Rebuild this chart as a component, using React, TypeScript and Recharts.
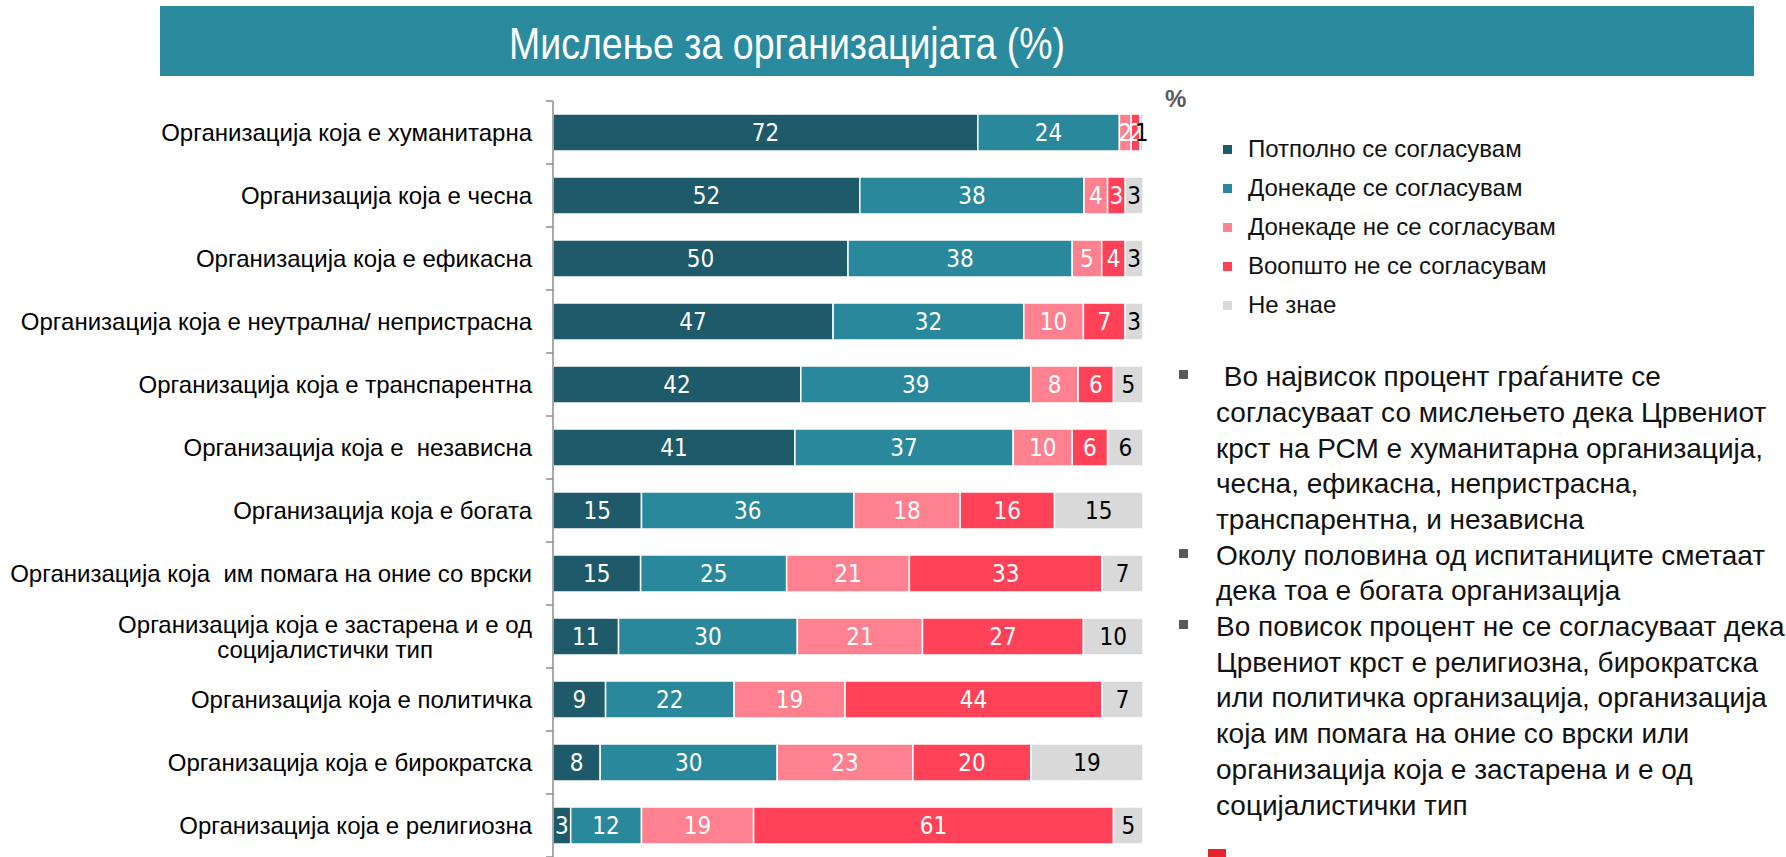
import React from 'react';
import { BarChart, Bar, XAxis, YAxis, LabelList } from 'recharts';

const categories = [
  'Организација која е хуманитарна',
  'Организација која е чесна',
  'Организација која е ефикасна',
  'Организација која е неутрална/ непристрасна',
  'Организација која е транспарентна',
  'Организација која е  независна',
  'Организација која е богата',
  'Организација која  им помага на оние со врски',
  'Организација која е застарена и е од\nсоцијалистички тип',
  'Организација која е политичка',
  'Организација која е бирократска',
  'Организација која е религиозна',
];

const fullyAgree = [72, 52, 50, 47, 42, 41, 15, 15, 11, 9, 8, 3];
const somewhatAgree = [24, 38, 38, 32, 39, 37, 36, 25, 30, 22, 30, 12];
const somewhatDisagree = [2, 4, 5, 10, 8, 10, 18, 21, 21, 19, 23, 19];
const stronglyDisagree = [1.5, 3, 4, 7, 6, 6, 16, 33, 27, 44, 20, 61];
const dontKnow = [0.5, 3, 3, 3, 5, 6, 15, 7, 10, 7, 19, 5];

const seriesNames = [
  'Потполно се согласувам',
  'Донекаде се согласувам',
  'Донекаде не се согласувам',
  'Воопшто не се согласувам',
  'Не знае',
];
const seriesKeys = ['s1', 's2', 's3', 's4', 's5'];
const seriesValues = [fullyAgree, somewhatAgree, somewhatDisagree, stronglyDisagree, dontKnow];
const seriesColors = ['#1E5A69', '#2A889C', '#FF808E', '#FF4258', '#D9D9D9'];
const labelColors = ['#FFFFFF', '#FFFFFF', '#FFFFFF', '#FFFFFF', '#000000'];

const titleText = 'Мислење за организацијата (%)';

const bulletLines = [
  ' Во највисок процент граѓаните се',
  'согласуваат со мислењето дека Црвениот',
  'крст на РСМ е хуманитарна организација,',
  'чесна, ефикасна, непристрасна,',
  'транспарентна, и независна',
  'Околу половина од испитаниците сметаат',
  'дека тоа е богата организација',
  'Во повисок процент не се согласуваат дека',
  'Црвениот крст е религиозна, бирократска',
  'или политичка организација, организација',
  'која им помага на оние со врски или',
  'организација која е застарена и е од',
  'социјалистички тип',
];
const bulletStarts = [0, 5, 7];

const data = categories.map((name, i) => {
  const row: Record<string, any> = { name };
  seriesKeys.forEach((k, j) => {
    row[k] = seriesValues[j][i];
  });
  return row;
});

const SANS = "'Liberation Sans', Arial, Helvetica, sans-serif";
const LABEL_FONT = "'DejaVu Sans Condensed', 'DejaVu Sans', Tahoma, sans-serif";

const CHART_W = 1160;
const CHART_H = 857;
const MARGIN_TOP = 101;
const AXIS_W = 553;
const TICK_SIZE = 7;
const TICK_MARGIN = 14;
const CAT_FONT = 24;
const BAND = (CHART_H - MARGIN_TOP) / categories.length;

let ctx: CanvasRenderingContext2D | null = null;
function measure(text: string, font: string) {
  if (!ctx) ctx = document.createElement('canvas').getContext('2d');
  if (!ctx) return text.length * 10;
  ctx.font = font;
  return ctx.measureText(text).width;
}

const CatTick = (props: any) => {
  const { x, y, payload, index } = props;
  const lines = String(payload.value).split('\n');
  const axisX = x + TICK_MARGIN + TICK_SIZE;
  const half = BAND / 2;
  const tickStroke = '#8C8C8C';
  const textEls: any[] = [];
  if (lines.length === 1) {
    textEls.push(
      <text key="l0" x={x} y={y} dy="0.36em" textAnchor="end" fontSize={CAT_FONT} fontFamily={SANS} fill="#000" style={{ whiteSpace: 'pre' }}>
        {lines[0]}
      </text>
    );
  } else {
    const w1 = measure(lines[0], `${CAT_FONT}px ${SANS}`);
    const gap = 25;
    lines.forEach((ln, i) => {
      const yy = y + (i - (lines.length - 1) / 2) * gap;
      textEls.push(
        <text key={'l' + i} x={i === 0 ? x : x - w1 / 2} y={yy} dy="0.36em" textAnchor={i === 0 ? 'end' : 'middle'} fontSize={CAT_FONT} fontFamily={SANS} fill="#000" style={{ whiteSpace: 'pre' }}>
          {ln}
        </text>
      );
    });
  }
  return (
    <g>
      <line x1={axisX - TICK_SIZE} x2={axisX} y1={y - half} y2={y - half} stroke={tickStroke} strokeWidth={1.5} />
      {index === categories.length - 1 && (
        <line x1={axisX - TICK_SIZE} x2={axisX} y1={y + half} y2={y + half} stroke={tickStroke} strokeWidth={1.5} />
      )}
      {textEls}
    </g>
  );
};

const fmt = (v: any) => Math.round(Number(v));

export default function App() {
  const legendTop = 149;
  const legendPitch = 39;
  const bulletTop = 377;
  const bulletPitch = 35.7;
  return (
    <div style={{ position: 'absolute', left: 0, top: 0, width: 1786, height: 857, background: '#fff', overflow: 'hidden', fontFamily: SANS }}>
      {/* Title banner */}
      <div style={{ position: 'absolute', left: 160, top: 6, width: 1594, height: 70, background: '#2A8A9E' }} />
      <svg style={{ position: 'absolute', left: 0, top: 0 }} width={1786} height={90}>
        <text
          x={787}
          y={59}
          textAnchor="middle"
          fontSize={44}
          fontFamily="'Liberation Sans Narrow', 'Arial Narrow', 'Liberation Sans', Arial, sans-serif"
          fill="#fff"
          textLength={556}
          lengthAdjust="spacingAndGlyphs"
        >
          {titleText}
        </text>
      </svg>

      {/* Chart */}
      <div style={{ position: 'absolute', left: 0, top: 0 }}>
        <BarChart
          width={CHART_W}
          height={CHART_H}
          data={data}
          layout="vertical"
          stackOffset="expand"
          margin={{ top: MARGIN_TOP, right: CHART_W - 1143, bottom: 0, left: 0 }}
          barSize={37}
        >
          <XAxis type="number" hide domain={[0, 1]} />
          <YAxis
            type="category"
            dataKey="name"
            width={AXIS_W}
            tickSize={TICK_SIZE}
            tickMargin={TICK_MARGIN}
            tickLine={false}
            axisLine={{ stroke: '#8C8C8C', strokeWidth: 1.5 }}
            interval={0}
            tick={(p: any) => <CatTick {...p} />}
          />
          {seriesKeys.map((k, j) => (
            <Bar key={k} dataKey={k} name={seriesNames[j]} stackId="a" fill={seriesColors[j]} stroke="#FFFFFF" strokeWidth={1.5} isAnimationActive={false}>
              <LabelList
                dataKey={k}
                position="center"
                formatter={fmt}
                fill={labelColors[j]}
                fontSize={24}
                fontFamily={LABEL_FONT}
              />
            </Bar>
          ))}
        </BarChart>
      </div>

      {/* % mark */}
      <div style={{ position: 'absolute', left: 1165, top: 84, fontSize: 24, fontWeight: 'bold', color: '#595959', lineHeight: '30px' }}>%</div>

      {/* Legend */}
      {seriesNames.map((n, j) => (
        <div key={n} style={{ position: 'absolute', left: 1223, top: legendTop + j * legendPitch - 15, height: 30, display: 'flex', alignItems: 'center', whiteSpace: 'nowrap' }}>
          <div style={{ width: 9, height: 9, background: seriesColors[j], marginRight: 16 }} />
          <span style={{ fontSize: 24, color: '#111', lineHeight: '30px' }}>{n}</span>
        </div>
      ))}

      {/* Bulleted commentary */}
      {bulletLines.map((ln, i) => (
        <div key={i} style={{ position: 'absolute', left: 1216, top: bulletTop + i * bulletPitch - bulletPitch / 2, height: bulletPitch, lineHeight: bulletPitch + 'px', fontSize: 28, color: '#111', whiteSpace: 'pre' }}>
          {ln}
        </div>
      ))}
      {bulletStarts.map((i) => (
        <div key={'b' + i} style={{ position: 'absolute', left: 1179, top: bulletTop + i * bulletPitch - 7, width: 9, height: 9, background: '#595959' }} />
      ))}

      {/* red corner mark */}
      <div style={{ position: 'absolute', left: 1208, top: 849, width: 18, height: 10, background: '#E8222E' }} />
    </div>
  );
}
